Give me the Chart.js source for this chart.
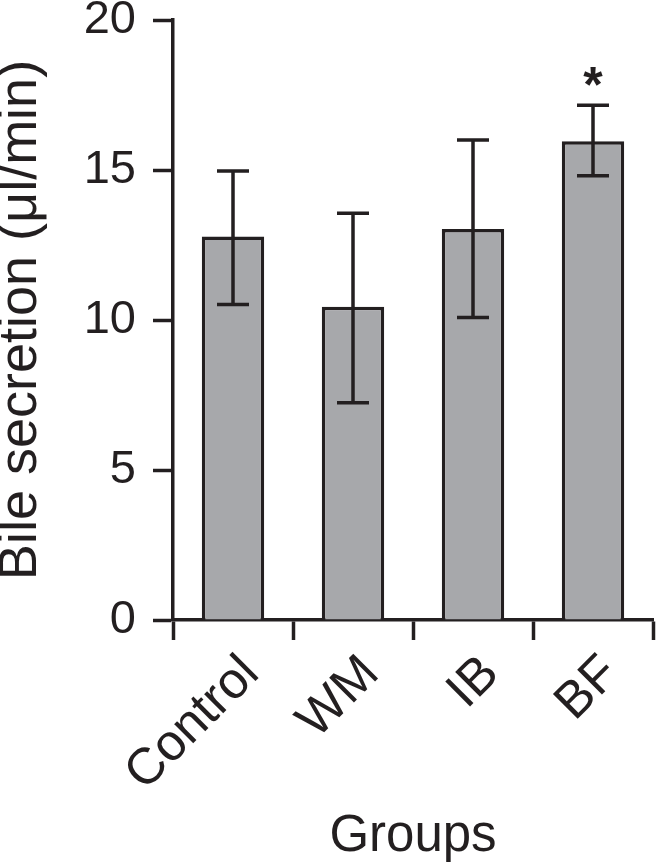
<!DOCTYPE html>
<html><head><meta charset="utf-8">
<script src="https://cdn.jsdelivr.net/npm/chart.js@4/dist/chart.umd.min.js"></script>
<style>html,body{margin:0;padding:0;background:#fff;}#wrap{width:657px;height:868px;}</style>
</head><body><div id="wrap"><canvas id="c" width="657" height="868"></canvas></div>
<script>
const categories = ['Control', 'WM', 'IB', 'BF'];
const meanValues = [12.78, 10.44, 13.03, 15.96];
const errorUpper = [14.97, 13.56, 16.0, 17.16];
const errorLower = [10.52, 7.24, 10.08, 14.81];
const significance = ['', '', '', '*'];
const yTickValues = [0, 5, 10, 15, 20];
const xTitle = 'Groups';
const yTitle = 'Bile secretion (\u03bcl/min)';

const INK = '#231f20';
const FILL = '#a7a8ab';
const FAMILY = '"Liberation Sans", Arial, Helvetica, sans-serif';
const LW = 3.5;

const errorBarPlugin = {
  id: 'errorBars',
  afterDatasetsDraw(chart) {
    const ctx = chart.ctx;
    const y = chart.scales.y;
    const meta = chart.getDatasetMeta(0);
    ctx.save();
    ctx.strokeStyle = INK;
    ctx.lineWidth = LW;
    ctx.lineCap = 'butt';
    meta.data.forEach((bar, i) => {
      const cx = bar.x;
      const yh = y.getPixelForValue(errorUpper[i]);
      const yl = y.getPixelForValue(errorLower[i]);
      ctx.beginPath();
      ctx.moveTo(cx, yh); ctx.lineTo(cx, yl);
      ctx.moveTo(cx - 16, yh); ctx.lineTo(cx + 16, yh);
      ctx.moveTo(cx - 16, yl); ctx.lineTo(cx + 16, yl);
      ctx.stroke();
      if (significance[i]) {
        ctx.fillStyle = INK;
        ctx.font = 'bold 50px ' + FAMILY;
        ctx.textAlign = 'center';
        ctx.textBaseline = 'alphabetic';
        ctx.fillText(significance[i], cx, yh - 3);
      }
    });
    ctx.restore();
  }
};

new Chart(document.getElementById('c'), {
  type: 'bar',
  data: {
    labels: categories,
    datasets: [{
      data: meanValues,
      backgroundColor: FILL,
      borderColor: INK,
      borderWidth: LW,
      borderSkipped: 'bottom',
      categoryPercentage: 1,
      barPercentage: 0.52
    }]
  },
  options: {
    responsive: false,
    animation: false,
    devicePixelRatio: 1,
    layout: { padding: { left: 0, right: 4, top: 20, bottom: 0 } },
    plugins: { legend: { display: false }, tooltip: { enabled: false } },
    scales: {
      x: {
        offset: true,
        grid: { display: true, drawOnChartArea: false, offset: true, drawTicks: true, tickLength: 20, tickColor: INK, tickWidth: LW },
        border: { display: true, color: INK, width: LW },
        ticks: { color: INK, font: { family: FAMILY, size: 51 }, minRotation: 45, maxRotation: 45, padding: 4, labelOffset: 18 },
        title: { display: true, text: xTitle, color: INK, font: { family: FAMILY, size: 51, lineHeight: 1.2 }, padding: 0 },
        afterFit(s) { s.height = 248; s.paddingLeft = 0; s.paddingRight = 0; }
      },
      y: {
        min: 0, max: 20,
        afterBuildTicks(s) { s.ticks = yTickValues.map(v => ({ value: v })); },
        grid: { display: true, drawOnChartArea: false, drawTicks: true, tickLength: 20, tickColor: INK, tickWidth: LW },
        border: { display: true, color: INK, width: LW },
        ticks: { color: INK, font: { family: FAMILY, size: 47 }, padding: 17 },
        title: { display: true, text: yTitle, color: INK, font: { family: FAMILY, size: 54, lineHeight: '42px' }, padding: 0 },
        afterFit(s) { s.width = 173; s.paddingTop = 0; s.paddingBottom = 0; }
      }
    }
  },
  plugins: [errorBarPlugin]
});
</script></body></html>
